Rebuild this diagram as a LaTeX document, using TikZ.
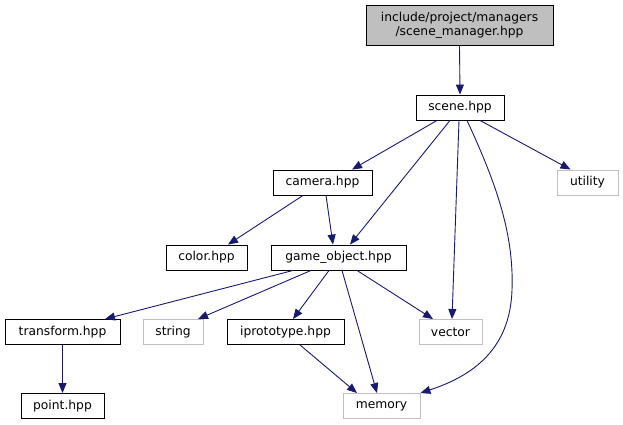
\documentclass[tikz,border=0pt]{standalone}
\usepackage{fontspec}
\setmainfont{DejaVu Sans}
\usetikzlibrary{arrows.meta,calc}
\definecolor{edgec}{HTML}{191970}
\definecolor{grayb}{HTML}{BFBFBF}
\tikzset{
  box/.style={draw=black, line width=0.9pt, minimum height=25pt, inner sep=0pt, font=\fontsize{12.3}{14}\selectfont, text=black},
  extbox/.style={box, draw=grayb},
  dep/.style={draw=edgec, line width=0.9pt, -{Triangle[length=10pt,width=8pt]}},
}
\begin{document}
\begin{tikzpicture}[x=1pt,y=-1pt]
\useasboundingbox (0,0) rectangle (623,425);
\node[box, fill=grayb, minimum width=187pt, minimum height=40pt, align=center] (top) at (459.5,25.5) {include/project/managers\\/scene\_manager.hpp};
\node[box, minimum width=88pt] (scene) at (460,107.5) {scene.hpp};
\node[box, minimum width=99pt] (camera) at (322.5,182.5) {camera.hpp};
\node[extbox, minimum width=61pt] (utility) at (587.5,182.5) {utility};
\node[box, minimum width=81pt] (color) at (206.5,257.5) {color.hpp};
\node[box, minimum width=135pt] (go) at (338.5,257.5) {game\_object.hpp};
\node[box, minimum width=115pt] (transform) at (62.5,332) {transform.hpp};
\node[extbox, minimum width=60pt] (string) at (173,332) {string};
\node[box, minimum width=117pt] (iproto) at (285.5,332) {iprototype.hpp};
\node[extbox, minimum width=63pt] (vector) at (450.5,332) {vector};
\node[box, minimum width=83pt] (point) at (62.5,406) {point.hpp};
\node[extbox, minimum width=77pt] (memory) at (381.5,406) {memory};

\draw[dep] (top.south) -- (scene.north);
\draw[dep] ($(scene.south)+(-23,0)$) -- ($(camera.north)+(29.5,0)$);
\draw[dep] ($(scene.south)+(-10,0)$) -- ($(go.north)+(11.5,0)$);
\draw[dep] ($(scene.south)+(-1,0)$) -- ($(vector.north)+(1.5,0)$);
\draw[dep] ($(scene.south)+(7,0)$) .. controls (497,185) and (514,235) .. (512,290) .. controls (510,350) and (472,376) .. (memory.north east);
\draw[dep] ($(scene.south)+(20,0)$) -- ($(utility.north)+(-17,0)$);
\draw[dep] ($(camera.south)+(-19.5,0)$) -- ($(color.north)+(21.5,0)$);
\draw[dep] ($(camera.south)+(3.5,0)$) -- ($(go.north)+(-5.5,0)$);
\draw[dep] ($(go.south)+(-45.5,0)$) -- ($(transform.north)+(42.5,0)$);
\draw[dep] ($(go.south)+(-27.5,0)$) -- ($(string.north)+(25,0)$);
\draw[dep] ($(go.south)+(-9.5,0)$) -- ($(iproto.north)+(7.5,0)$);
\draw[dep] ($(go.south)+(3.5,0)$) -- ($(memory.north)+(-4.5,0)$);
\draw[dep] ($(go.south)+(18.5,0)$) -- ($(vector.north)+(-17.5,0)$);
\draw[dep] ($(iproto.south)+(14.5,0)$) -- ($(memory.north)+(-24.5,0)$);
\draw[dep] (transform.south) -- (point.north);
\end{tikzpicture}
\end{document}
